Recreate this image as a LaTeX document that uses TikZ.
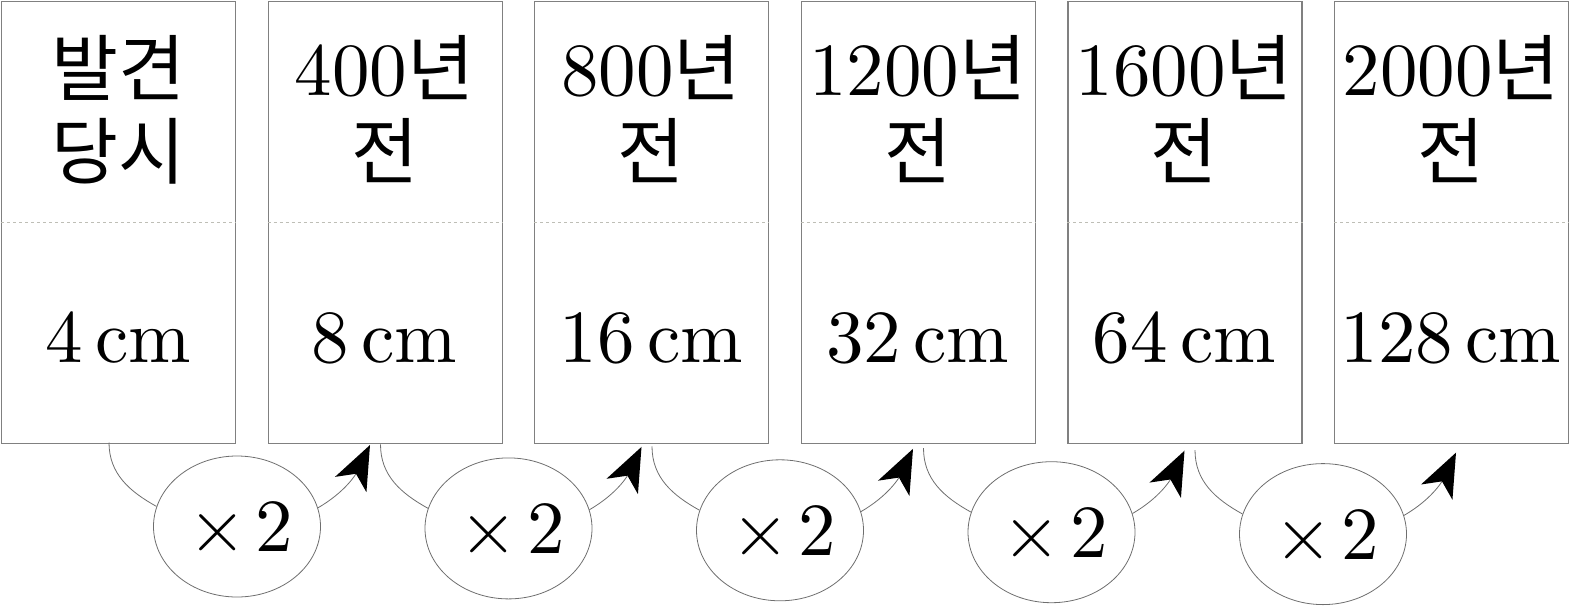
\documentclass[tikz,border=0pt]{standalone}
\usepackage{fontspec}
\setmainfont{lmroman10-regular.otf}
\newfontfamily\kr[Scale=0.97]{Noto Sans CJK KR}
\usetikzlibrary{shapes.geometric,arrows.meta}
\definecolor{boxgray}{RGB}{128,128,128}
\definecolor{ovalgray}{RGB}{110,110,110}
\definecolor{dashgray}{RGB}{190,190,182}
\begin{document}
\begin{tikzpicture}[x=0.5pt,y=0.5pt,
  every node/.style={font=\fontsize{37.5}{45}\selectfont},
  box/.style={draw=boxgray,line width=0.6pt,minimum width=117pt,minimum height=220.75pt,inner sep=0pt,anchor=north west},
  divider/.style={draw=dashgray,line width=0.6pt,dash pattern=on 1.5pt off 1.5pt},
  label/.style={anchor=base,inner sep=0pt},
  oval/.style={ellipse,draw=ovalgray,line width=0.4pt,minimum width=83.5pt,minimum height=70.5pt,inner sep=0pt},
  conn/.style={draw=ovalgray,line width=0.4pt},
  growarrow/.style={conn,-{Stealth[length=22pt,width=17.5pt,inset=6pt,color=black,line width=0pt]}}
]
\useasboundingbox (0,0) rectangle (1569,-606);
% boxes
\foreach \i/\ta/\tb/\bt in {1/{\kr 발견}/{\kr 당시}/{4\,cm},
                           2/{400\kr 년}/{\kr 전}/{8\,cm},
                           3/{800\kr 년}/{\kr 전}/{16\,cm},
                           4/{1200\kr 년}/{\kr 전}/{32\,cm},
                           5/{1600\kr 년}/{\kr 전}/{64\,cm},
                           6/{2000\kr 년}/{\kr 전}/{128\,cm}}{
  \pgfmathsetmacro{\bx}{1+266.6*(\i-1)}
  \pgfmathsetmacro{\cx}{\bx+117}
  \node[box] (b\i) at (\bx,-1) {};
  \draw[divider] (b\i.west) -- (b\i.east);
  \node[label] (ta\i) at (\cx,-95) {\ta};
  \node[label] (tb\i) at (\cx,-178) {\tb};
  \node[label] (bt\i) at (\cx,-362) {\bt};
}
% ellipses and connectors
\foreach \i in {1,...,5}{
  \pgfmathsetmacro{\ex}{237+271.5*(\i-1)}
  \pgfmathsetmacro{\ey}{-(526.5+1.9*(\i-1))}
  \node[oval] (e\i) at (\ex,\ey) {\hspace{0.1em}×\hspace{0.12em}2};
  \coordinate (s\i) at ([shift={(-128,84)}]e\i.center);
  \coordinate (t\i) at ([shift={(133,81.5)}]e\i.center);
  \draw[conn] (s\i) to[out=-90,in=151] (e\i.166);
  \draw[growarrow] (e\i.13) to[out=30,in=-116] (t\i);
}
\end{tikzpicture}
\end{document}
